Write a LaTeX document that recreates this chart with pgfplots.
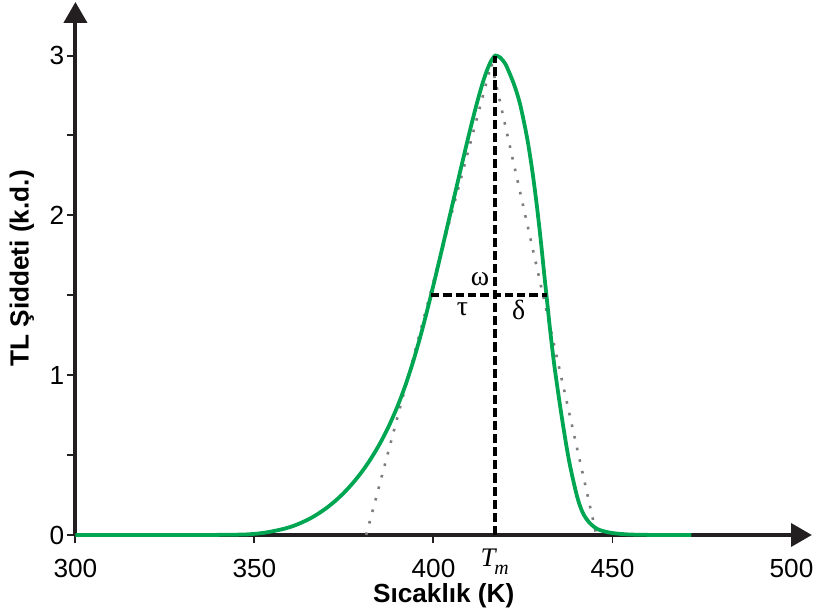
\documentclass[border=0pt]{standalone}
\usepackage{pgfplots}
\pgfplotsset{compat=1.18}
\usepackage{fontspec}
\setmainfont{Liberation Sans}
\newfontfamily\seriffont{Liberation Serif}
\usetikzlibrary{arrows.meta}
\definecolor{tlgreen}{RGB}{0,166,81}
\definecolor{axisblack}{RGB}{35,31,32}
\definecolor{dotgray}{RGB}{125,125,125}

\begin{document}
\begin{tikzpicture}[font=\fontsize{13.2}{16}\selectfont]
\begin{axis}[
  scale only axis, width=371pt, height=268.5pt,
  xmin=300, xmax=505.7, ymin=0, ymax=3.335,
  axis lines=left,
  axis line style={line width=2pt, draw=axisblack, -{Triangle[length=10.5pt,width=11.5pt]}},
  xtick={300,350,400,450,500},
  ytick={0,1,2,3},
  minor ytick={0.5,1.5,2.5},
  tick align=outside,
  major tick length=4pt, minor tick length=4pt,
  tick style={line width=1pt, draw=axisblack},
  tick label style={font=\fontsize{13.2}{16}\selectfont, /pgf/number format/assume math mode=true},
  xticklabel style={yshift=-4.5pt},
  yticklabel style={inner sep=1.5pt},
  xlabel={\bfseries Sıcaklık (K)},
  ylabel={\bfseries TL Şiddeti (k.d.)},
  xlabel style={at={(axis description cs:0.5,-0.1135)}, anchor=center},
  ylabel style={at={(axis description cs:-0.0728,0.5)}, anchor=center},
  clip=false,
]
% triangle approximation (dotted)
\addplot[dotgray, line width=1.3pt, dash pattern=on 1.3pt off 4.7pt] coordinates {
  (381.2,0) (416.2,2.95) (445.5,0)
};
% TL glow curve
\addplot[tlgreen, line width=1.9pt, smooth] coordinates {
  (300,0) (320,0) (332,0.0001) (340,0.0008) (348,0.004) (353,0.015) (358,0.0375)
  (361.5,0.062) (365,0.097) (367.5,0.129) (370,0.167) (372.5,0.212) (375,0.2645)
  (377.5,0.3255) (380,0.3955) (382.5,0.477) (385,0.5705) (387.5,0.680) (390,0.808)
  (392,0.9265) (394,1.062) (395.5,1.175) (397,1.2975) (398.5,1.428) (400,1.5645)
  (401.5,1.705) (403,1.848) (404.5,1.992) (406,2.136) (407.5,2.279) (409,2.421)
  (410,2.514) (411,2.604) (412,2.6905) (413,2.772) (414,2.847) (415,2.911)
  (416,2.962) (416.7,2.986) (417.3,3.0) (418.6,2.988) (420,2.95) (421.2,2.892)
  (422.8,2.80) (424.3,2.685) (426.2,2.478) (427.65,2.271) (428.85,2.064)
  (429.9,1.857) (430.85,1.650) (431.6,1.49) (432.6,1.278) (433.7,1.070)
  (435.0,0.863) (436.4,0.657) (438.0,0.449) (440.1,0.242) (441.7,0.139)
  (443.6,0.076) (446.0,0.035) (449.5,0.014) (454,0.004) (459,0.001) (465,0) (472,0)
};
% Tm and half-height lines
\addplot[black, line width=2.1pt, dash pattern=on 4.6pt off 2pt] coordinates {(417.1,0) (417.1,3.0)};
\addplot[black, line width=2.1pt, dash pattern=on 4.2pt off 2pt] coordinates {(399.3,1.5) (431.6,1.5)};
\node[font=\seriffont\fontsize{14}{16}\selectfont] at (axis cs:413,1.6) {ω};
\node[font=\seriffont\fontsize{14}{16}\selectfont] at (axis cs:408.1,1.41) {τ};
\node[font=\seriffont\fontsize{14}{16}\selectfont] at (axis cs:423.8,1.41) {δ};
\node[anchor=north, inner sep=0pt, yshift=-7pt] at (axis cs:417.1,0)
  {\seriffont\itshape\fontsize{13.5}{16}\selectfont T\kern-0.5pt\raisebox{-0.6ex}{\fontsize{10}{12}\selectfont m}};
\end{axis}
\path ([xshift=-38pt,yshift=-39pt]current axis.south west) rectangle ([xshift=1pt,yshift=1pt]current axis.north east);
\end{tikzpicture}
\end{document}
